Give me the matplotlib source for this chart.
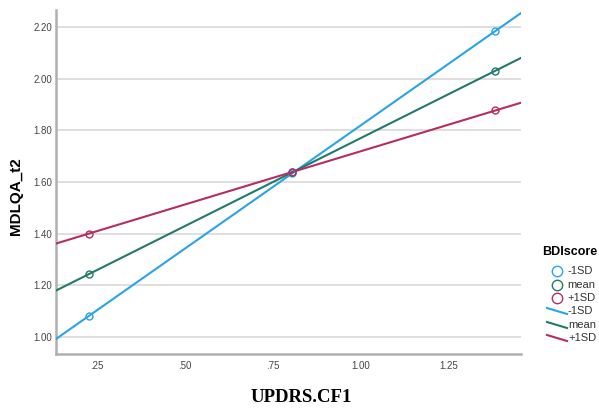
import numpy as np
import matplotlib.pyplot as plt
from matplotlib.lines import Line2D

plt.rcParams['font.family'] = ['Liberation Sans', 'DejaVu Sans']

# 数据：BDIscore 三个水平的简单斜率（x 取 UPDRS.CF1 的 -1SD / 均值 / +1SD）
x_pts = [0.227, 0.805, 1.383]
groups = ['-1SD', 'mean', '+1SD']
y_left = [1.081, 1.243, 1.400]
y_right = [2.185, 2.031, 1.877]
colors = ['#2aa4e8', '#237a6a', '#b52d62']

y_ticks = [1.00, 1.20, 1.40, 1.60, 1.80, 2.00, 2.20]
x_ticks = [0.25, 0.50, 0.75, 1.00, 1.25]
x_ticklabels = ['.25', '.50', '.75', '1.00', '1.25']

XLIM = (0.134, 1.455)
YLIM = (0.934, 2.266)

fig = plt.figure(figsize=(5.99, 4.08), dpi=100)
ax = fig.add_axes([0.0935, 0.1324, 0.776, 0.8431])

xx = np.array(XLIM)
for yl, yr, c, g in zip(y_left, y_right, colors, groups):
    slope = (yr - yl) / (x_pts[2] - x_pts[0])
    ax.plot(xx, yl + slope * (xx - x_pts[0]), '-', color=c, lw=1.5, zorder=3)
    ym = yl + slope * (x_pts[1] - x_pts[0])
    ax.plot(x_pts, [yl, ym, yr], 'o', ms=5, mfc='none', mec=c, mew=1.0, zorder=4)

ax.set_xlim(*XLIM)
ax.set_ylim(*YLIM)
ax.set_yticks(y_ticks)
ax.set_yticklabels([f'{v:.2f}' for v in y_ticks])
ax.set_xticks(x_ticks)
ax.set_xticklabels(x_ticklabels)
ax.tick_params(length=0, labelsize=7, labelcolor='#444444')
ax.tick_params(axis='x', pad=5)
ax.tick_params(axis='y', pad=3)
ax.yaxis.grid(True, color='#d9d9d9', lw=1.2)
ax.set_axisbelow(True)
for s in ['top', 'right']:
    ax.spines[s].set_visible(False)
for s in ['left', 'bottom']:
    ax.spines[s].set_color('#b0b0b0')
    ax.spines[s].set_linewidth(1.8)

fig.text(16 / 599, 1 - 196 / 408, 'MDLQA_t2', rotation=90, ha='center',
         va='center', fontsize=11, fontweight='bold')
fig.text(301 / 599, 1 - 397 / 408, 'UPDRS.CF1', ha='center', va='center',
         fontsize=13.5, fontweight='bold', family='Liberation Serif')

# 图例（手动绘制）
W, H = 599.0, 408.0
fig.text(542 / W, 1 - 252 / H, 'BDIscore', ha='left', va='center',
         fontsize=9, fontweight='bold')
rows = [271, 285, 298, 311, 325, 338]
for i, (g, c) in enumerate(zip(groups, colors)):
    y = 1 - rows[i] / H
    fig.add_artist(Line2D([557 / W], [y], marker='o', ms=7.5, mfc='none',
                          mec=c, mew=1.0, transform=fig.transFigure))
    fig.text(567 / W, y, g, ha='left', va='center', fontsize=8,
             color='#333333')
for i, (g, c) in enumerate(zip(groups, colors)):
    y = 1 - rows[i + 3] / H
    fig.add_artist(Line2D([547 / W, 567 / W], [y + 3 / H, y - 3 / H],
                          color=c, lw=1.5, transform=fig.transFigure))
    fig.text(568 / W, y, g, ha='left', va='center', fontsize=8,
             color='#333333')

fig.savefig('out.png', dpi=100)
